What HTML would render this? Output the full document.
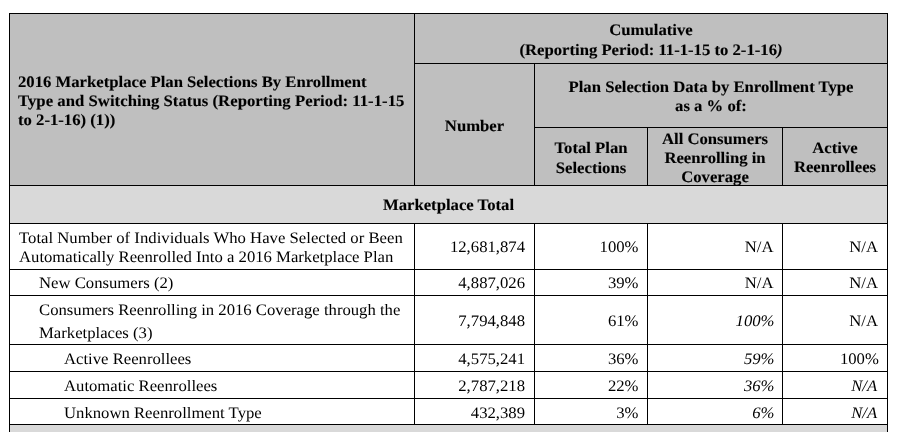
<!DOCTYPE html>
<html><head><meta charset="utf-8">
<style>
html,body{margin:0;padding:0;background:#fff;}
body{width:898px;height:432px;position:relative;overflow:hidden;font-family:"Liberation Serif",serif;color:#000;}
.bg{position:absolute;}
.h{position:absolute;height:1px;background:#000;}
.v{position:absolute;width:1px;background:#000;}
.t{position:absolute;white-space:nowrap;font-size:16px;line-height:18px;transform:scaleX(1.0425);transform-origin:0 0;text-rendering:geometricPrecision;}
.b{font-weight:bold;-webkit-text-stroke:0.12px #000;}
.c{text-align:center;transform-origin:50% 0;}
.r{text-align:right;transform-origin:100% 0;}
.i{font-style:italic;}
</style></head><body>
<div class="bg" style="left:9px;top:13px;width:879px;height:173px;background:#bfbfbf"></div>
<div class="bg" style="left:9px;top:186px;width:879px;height:38px;background:#d9d9d9"></div>
<div class="bg" style="left:9px;top:425px;width:879px;height:7px;background:#d9d9d9"></div>
<div class="h" style="left:9px;top:13px;width:879px"></div>
<div class="h" style="left:414px;top:63px;width:474px"></div>
<div class="h" style="left:534px;top:127px;width:354px"></div>
<div class="h" style="left:9px;top:185px;width:879px"></div>
<div class="h" style="left:9px;top:223px;width:879px"></div>
<div class="h" style="left:9px;top:269px;width:879px"></div>
<div class="h" style="left:9px;top:295px;width:879px"></div>
<div class="h" style="left:9px;top:344px;width:879px"></div>
<div class="h" style="left:9px;top:371px;width:879px"></div>
<div class="h" style="left:9px;top:398px;width:879px"></div>
<div class="h" style="left:9px;top:424px;width:879px"></div>
<div class="v" style="left:9px;top:13px;height:419px"></div>
<div class="v" style="left:887px;top:13px;height:419px"></div>
<div class="v" style="left:414px;top:13px;height:173px"></div>
<div class="v" style="left:414px;top:223px;height:202px"></div>
<div class="v" style="left:534px;top:63px;height:123px"></div>
<div class="v" style="left:534px;top:223px;height:202px"></div>
<div class="v" style="left:647px;top:127px;height:59px"></div>
<div class="v" style="left:647px;top:223px;height:202px"></div>
<div class="v" style="left:782px;top:127px;height:59px"></div>
<div class="v" style="left:782px;top:223px;height:202px"></div>
<div class="t b" id="h1" style="left:17.7px;top:73.25px;line-height:19px;">2016 Marketplace Plan Selections By Enrollment<br><span style="letter-spacing:0.04px">Type and Switching Status (Reporting Period: 11-1-15</span><br>to 2-1-16) (1))</div>
<div class="t b c" id="h2" style="left:415px;width:472px;top:20.75px;line-height:20px;">Cumulative<br>(Reporting Period: 11-1-15 to 2-1-16<span class="i">)</span></div>
<div class="t b c" id="h3" style="left:415px;width:119px;top:117.75px;line-height:18px;">Number</div>
<div class="t b c" id="h4" style="left:535px;width:352px;top:78.25px;line-height:19px;">Plan Selection Data by Enrollment Type<br>as a % of:</div>
<div class="t b c" id="h5" style="left:535px;width:112px;top:138.75px;line-height:20px;">Total Plan<br>Selections</div>
<div class="t b c" id="h6" style="left:648px;width:134px;top:130.25px;line-height:19px;">All Consumers<br>Reenrolling in<br>Coverage</div>
<div class="t b c" id="h7" style="left:783px;width:104px;top:139.25px;line-height:19px;">Active<br>Reenrollees</div>
<div class="t b c" id="h8" style="left:10px;width:877px;top:196.75px;line-height:18px;">Marketplace Total</div>
<div class="t " id="r1" style="left:18.5px;top:229.25px;line-height:19px;"><span style="letter-spacing:0.015px">Total Number of Individuals Who Have Selected or Been</span><br>Automatically Reenrolled Into a 2016 Marketplace Plan</div>
<div class="t " id="r2" style="left:39.0px;top:274.75px;line-height:18px;">New Consumers (2)</div>
<div class="t " id="r3" style="left:38.8px;top:299.25px;line-height:23px;">Consumers Reenrolling in 2016 Coverage through the<br>Marketplaces (3)</div>
<div class="t " id="r4" style="left:64.0px;top:350.75px;line-height:18px;">Active Reenrollees</div>
<div class="t " id="r5" style="left:64.0px;top:377.75px;line-height:18px;">Automatic Reenrollees</div>
<div class="t " id="r6" style="left:64.0px;top:404.75px;line-height:18px;">Unknown Reenrollment Type</div>
<div class="t r" id="a0" style="left:415px;width:110px;top:238.75px;line-height:18px;">12,681,874</div>
<div class="t r" id="b0" style="left:535px;width:103.5px;top:238.75px;line-height:18px;">100%</div>
<div class="t r" id="c0" style="left:648px;width:125.5px;top:238.75px;line-height:18px;">N/A</div>
<div class="t r" id="d0" style="left:783px;width:95px;top:238.75px;line-height:18px;">N/A</div>
<div class="t r" id="a1" style="left:415px;width:110px;top:274.75px;line-height:18px;">4,887,026</div>
<div class="t r" id="b1" style="left:535px;width:103.5px;top:274.75px;line-height:18px;">39%</div>
<div class="t r" id="c1" style="left:648px;width:125.5px;top:274.75px;line-height:18px;">N/A</div>
<div class="t r" id="d1" style="left:783px;width:95px;top:274.75px;line-height:18px;">N/A</div>
<div class="t r" id="a2" style="left:415px;width:110px;top:312.75px;line-height:18px;">7,794,848</div>
<div class="t r" id="b2" style="left:535px;width:103.5px;top:312.75px;line-height:18px;">61%</div>
<div class="t r i" id="c2" style="left:648px;width:126.5px;top:312.75px;line-height:18px;">100%</div>
<div class="t r" id="d2" style="left:783px;width:95px;top:312.75px;line-height:18px;">N/A</div>
<div class="t r" id="a3" style="left:415px;width:110px;top:350.75px;line-height:18px;">4,575,241</div>
<div class="t r" id="b3" style="left:535px;width:103.5px;top:350.75px;line-height:18px;">36%</div>
<div class="t r i" id="c3" style="left:648px;width:126.5px;top:350.75px;line-height:18px;">59%</div>
<div class="t r" id="d3" style="left:783px;width:95.8px;top:350.75px;line-height:18px;">100%</div>
<div class="t r" id="a4" style="left:415px;width:110px;top:377.75px;line-height:18px;">2,787,218</div>
<div class="t r" id="b4" style="left:535px;width:103.5px;top:377.75px;line-height:18px;">22%</div>
<div class="t r i" id="c4" style="left:648px;width:126.5px;top:377.75px;line-height:18px;">36%</div>
<div class="t r i" id="d4" style="left:783px;width:94.2px;top:377.75px;line-height:18px;">N/A</div>
<div class="t r" id="a5" style="left:415px;width:110px;top:404.75px;line-height:18px;">432,389</div>
<div class="t r" id="b5" style="left:535px;width:103.5px;top:404.75px;line-height:18px;">3%</div>
<div class="t r i" id="c5" style="left:648px;width:126.5px;top:404.75px;line-height:18px;">6%</div>
<div class="t r i" id="d5" style="left:783px;width:94.2px;top:404.75px;line-height:18px;">N/A</div>
</body></html>
